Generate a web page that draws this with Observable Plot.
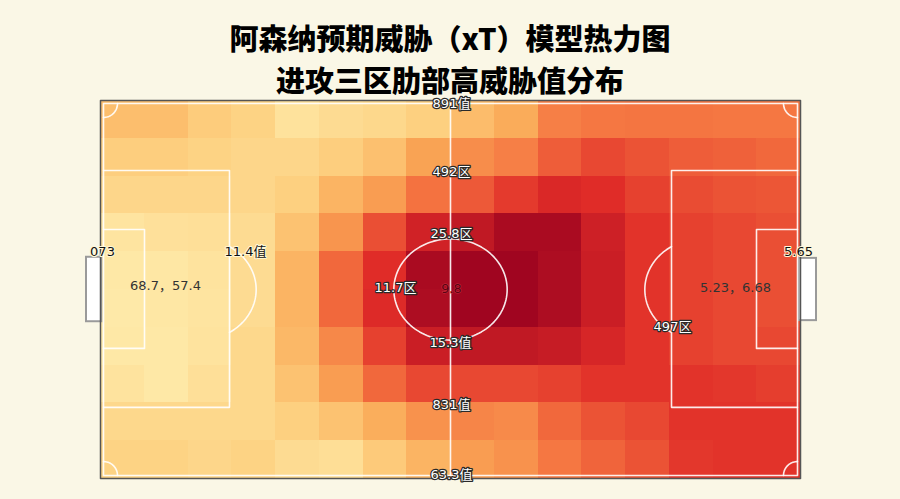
<!DOCTYPE html>
<html>
<head>
<meta charset="utf-8">
<script src="https://cdn.jsdelivr.net/npm/d3@7"></script>
<script src="https://cdn.jsdelivr.net/npm/@observablehq/plot@0.6"></script>
<style>
  html, body { margin: 0; padding: 0; background: #faf7e6; width: 900px; height: 499px; overflow: hidden; }
  #title { height: 96px; box-sizing: border-box; padding-top: 20px; text-align: center;
    font-family: "Noto Sans CJK SC", sans-serif; font-weight: 900; font-size: 29px; color: #000; }
  #title div { height: 34px; line-height: 34px; margin-bottom: 8px; }
  #chart svg { display: block; overflow: visible; }
</style>
</head>
<body>
<div id="title"></div>
<div id="chart"></div>
<script>
// ---- Data ----
const titleLines = ["阿森纳预期威胁（xT）模型热力图", "进攻三区肋部高威胁值分布"];
const pitchLength = 105, pitchWidth = 68;
const gridCols = 16, gridRows = 10;
// xT intensity per zone (rows top→bottom, columns left→right), 0–1
const xtRow0 = [0.29, 0.29, 0.22, 0.18, 0.06, 0.11, 0.14, 0.20, 0.30, 0.38, 0.55, 0.58, 0.59, 0.59, 0.58, 0.58];
const xtRow1 = [0.21, 0.21, 0.18, 0.15, 0.15, 0.21, 0.28, 0.42, 0.50, 0.55, 0.66, 0.72, 0.69, 0.66, 0.65, 0.63];
const xtRow2 = [0.15, 0.15, 0.15, 0.15, 0.20, 0.34, 0.44, 0.60, 0.67, 0.76, 0.82, 0.80, 0.74, 0.71, 0.69, 0.68];
const xtRow3 = [0.04, 0.07, 0.08, 0.11, 0.27, 0.47, 0.70, 0.85, 0.90, 0.97, 0.97, 0.86, 0.78, 0.74, 0.72, 0.70];
const xtRow4 = [0.01, 0.02, 0.05, 0.11, 0.34, 0.63, 0.80, 0.97, 1.00, 1.00, 0.96, 0.87, 0.78, 0.74, 0.72, 0.70];
const xtRow5 = [0.00, 0.02, 0.04, 0.11, 0.34, 0.63, 0.81, 0.96, 1.00, 1.00, 0.96, 0.87, 0.78, 0.74, 0.72, 0.70];
const xtRow6 = [0.01, 0.01, 0.05, 0.14, 0.32, 0.52, 0.74, 0.87, 0.90, 0.90, 0.88, 0.83, 0.78, 0.74, 0.72, 0.72];
const xtRow7 = [0.05, 0.01, 0.08, 0.14, 0.27, 0.44, 0.63, 0.72, 0.72, 0.72, 0.74, 0.78, 0.78, 0.78, 0.77, 0.75];
const xtRow8 = [0.14, 0.14, 0.14, 0.14, 0.20, 0.27, 0.37, 0.48, 0.53, 0.51, 0.63, 0.69, 0.72, 0.78, 0.78, 0.78];
const xtRow9 = [0.18, 0.18, 0.15, 0.18, 0.11, 0.09, 0.23, 0.34, 0.44, 0.48, 0.58, 0.64, 0.69, 0.77, 0.78, 0.78];
const xtGrid = [xtRow0, xtRow1, xtRow2, xtRow3, xtRow4, xtRow5, xtRow6, xtRow7, xtRow8, xtRow9];

// annotations (pitch metres)
const haloLabels = ["891值", "492区", "25.8区", "15.3值", "831值", "63.3值", "11.7区", "497区"];
const haloX =      [52.65, 52.65, 52.65, 52.5, 52.65, 52.65, 44.25, 85.8];
const haloY =      [0.6, 12.77, 23.92, 43.53, 54.68, 67.27, 33.76, 40.8];
const darkLabels = ["073", "11.4值", "5.65"];
const darkX =      [0.3, 21.75, 104.7];
const darkY =      [27.3, 27.16, 27.3];
const plainLabels = ["68.7，57.4", "5.23，6.68"];
const plainX =      [9.75, 95.25];
const plainY =      [33.4, 33.76];
const centreLabel = ["9.8"];
const centreX = [52.65], centreY = [33.9];

// ---- Build ----
const titleEl = document.getElementById("title");
titleLines.forEach(t => { const d = document.createElement("div"); d.textContent = t; titleEl.appendChild(d); });

const cw = pitchLength / gridCols, ch = pitchWidth / gridRows;
const cells = xtGrid.flatMap((row, r) => row.map((v, c) => ({c, r, v})));

// pitch markings (metres)
const ix = 0.45, iy = 0.55;
const L = pitchLength, W = pitchWidth;
const boxD = 19.35, boxY1 = 12.6, boxY2 = 55.2;
const sixD = 6.6, sixY1 = 23.2, sixY2 = 44.6;
const rx = 8.5, ry = 9.1, spot = 14.85;
function ellipse(cx, cy, ax, ay, t0, t1, n = 80) {
  return d3.range(n + 1).map(i => { const t = t0 + (t1 - t0) * i / n; return [cx + ax * Math.cos(t), cy + ay * Math.sin(t)]; });
}
const arcHalf = Math.acos((boxD - spot) / rx);
const segments = [
  [[ix, iy], [L - ix, iy], [L - ix, W - iy], [ix, W - iy], [ix, iy]],
  [[L / 2, iy], [L / 2, W - iy]],
  ellipse(L / 2, W / 2, rx, ry, 0, 2 * Math.PI, 120),
  [[ix, boxY1], [boxD, boxY1], [boxD, boxY2], [ix, boxY2]],
  [[L - ix, boxY1], [L - boxD, boxY1], [L - boxD, boxY2], [L - ix, boxY2]],
  [[ix, sixY1], [sixD, sixY1], [sixD, sixY2], [ix, sixY2]],
  [[L - ix, sixY1], [L - sixD, sixY1], [L - sixD, sixY2], [L - ix, sixY2]],
  ellipse(spot, W / 2, rx, ry, -arcHalf, arcHalf),
  ellipse(L - spot, W / 2, rx, ry, Math.PI - arcHalf, Math.PI + arcHalf),
  ellipse(ix, iy, 2.1, 2.5, 0, Math.PI / 2, 20),
  ellipse(L - ix, iy, 2.1, 2.5, Math.PI / 2, Math.PI, 20),
  ellipse(ix, W - iy, 2.1, 2.5, -Math.PI / 2, 0, 20),
  ellipse(L - ix, W - iy, 2.1, 2.5, Math.PI, 1.5 * Math.PI, 20)
];
const linePts = segments.flatMap((s, i) => s.map(p => ({x: p[0], y: p[1], id: i})));
const goals = [
  {x1: -2.1, x2: 0.2, y1: 28.2, y2: 39.8},
  {x1: L - 0.2, x2: L + 2.4, y1: 28.4, y2: 39.6}
];
const frame = [[0, 0], [L, 0], [L, W], [0, W], [0, 0]].map(p => ({x: p[0], y: p[1]}));

const mk = (labels, xs, ys) => labels.map((t, i) => ({t, x: xs[i], y: ys[i]}));
const font = "'DejaVu Sans', 'Noto Sans CJK SC', sans-serif";

const plot = Plot.plot({
  width: 900,
  height: 403,
  marginLeft: 100,
  marginRight: 100,
  marginTop: 4,
  marginBottom: 21,
  style: {background: "transparent", overflow: "visible"},
  x: {domain: [0, L], axis: null},
  y: {domain: [0, W], reverse: true, axis: null},
  color: {
    type: "linear",
    domain: [0, 0.2, 0.4, 0.6, 0.8, 1],
    range: ["#fee9a8", "#fdd080", "#faa856", "#f47240", "#e02c28", "#a00520"],
    interpolate: "rgb"
  },
  marks: [
    Plot.rect(cells, {
      x1: d => d.c * cw, x2: d => (d.c + 1) * cw,
      y1: d => d.r * ch, y2: d => (d.r + 1) * ch,
      fill: "v", inset: 0, shapeRendering: "crispEdges"
    }),
    Plot.rect(goals, {x1: "x1", x2: "x2", y1: "y1", y2: "y2", fill: "white", stroke: "#9a9a9a", strokeWidth: 2}),
    Plot.line(frame, {x: "x", y: "y", stroke: "#555", strokeWidth: 1.5}),
    Plot.line(linePts, {x: "x", y: "y", z: "id", stroke: "white", strokeWidth: 1.6, strokeOpacity: 0.9, curve: "linear"}),
    Plot.text(mk(haloLabels, haloX, haloY), {x: "x", y: "y", text: "t", fill: "white", stroke: "#2a2a2a", strokeWidth: 2.5, fontSize: 13, fontFamily: font}),
    Plot.text(mk(darkLabels, darkX, darkY), {x: "x", y: "y", text: "t", fill: "#111", stroke: "#fff8d8", strokeWidth: 2, fontSize: 13, fontFamily: font}),
    Plot.text(mk(plainLabels, plainX, plainY), {x: "x", y: "y", text: "t", fill: "#333", fontSize: 13, fontFamily: font}),
    Plot.text(mk(centreLabel, centreX, centreY), {x: "x", y: "y", text: "t", fill: "#5a0010", stroke: "#c83040", strokeWidth: 1, fontSize: 13, fontFamily: font})
  ]
});
document.getElementById("chart").appendChild(plot);
</script>
</body>
</html>
